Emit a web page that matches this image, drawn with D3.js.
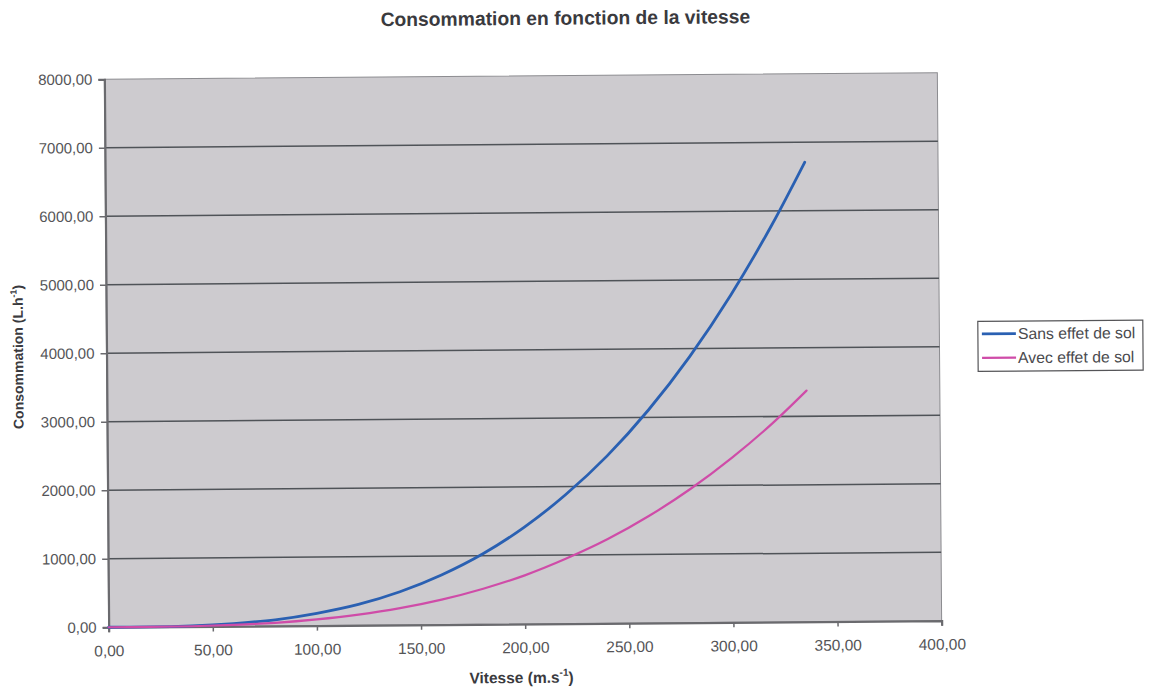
<!DOCTYPE html>
<html>
<head>
<meta charset="utf-8">
<script src="https://cdn.jsdelivr.net/npm/d3@7"></script>
<style>
  html, body { margin: 0; padding: 0; background: #ffffff; }
  svg { display: block; }
  text { font-family: "Liberation Sans", Arial, sans-serif; }
</style>
</head>
<body>
<svg id="chart" width="1152" height="691"></svg>
<script>
// Vitesse (m/s) and fuel consumption (L/h) for the two configurations
const vitesse      = [0, 20, 40, 60, 80, 100, 120, 140, 160, 180, 200, 220, 240, 260, 280, 300, 320, 336];
const sansEffetSol = [0, 0, 10, 40, 90, 180, 305, 485, 725, 1030, 1415, 1885, 2445, 3110, 3885, 4780, 5800, 6710];
const avecEffetSol = [0, 0, 5, 20, 45, 90, 155, 245, 365, 520, 710, 950, 1230, 1565, 1955, 2405, 2915, 3375];

const xTicks = [0, 50, 100, 150, 200, 250, 300, 350, 400];
const yTicks = [0, 1000, 2000, 3000, 4000, 5000, 6000, 7000, 8000];

const seriesNames  = ["Sans effet de sol", "Avec effet de sol"];
const seriesColors = ["#2a60b2", "#cf4ca8"];

const titre  = "Consommation en fonction de la vitesse";
const titreX = "Vitesse (m.s";
const titreY = "Consommation (L.h";

const frFmt = v => d3.format(".2f")(v).replace(".", ",");

const svg = d3.select("#chart");

// plot frame
const plotL = 106.5, plotR = 939.5, plotT = 76, plotB = 624;

// the whole sheet sits very slightly tilted
const root = svg.append("g").attr("transform", "rotate(-0.45, 523, 350)");

const x = d3.scaleLinear().domain([0, 400]).range([plotL, plotR]);
const y = d3.scaleLinear().domain([0, 8000]).range([plotB, plotT]);

// plot background
root.append("rect")
  .attr("x", plotL).attr("y", plotT)
  .attr("width", plotR - plotL).attr("height", plotB - plotT)
  .attr("fill", "#cdcbcf")
  .attr("stroke", "#8c8c90").attr("stroke-width", 1);

// horizontal gridlines
root.append("g")
  .selectAll("line")
  .data(yTicks.filter(d => d > 0 && d < 8000))
  .join("line")
  .attr("x1", plotL).attr("x2", plotR)
  .attr("y1", d => y(d)).attr("y2", d => y(d))
  .attr("stroke", "#4f5358").attr("stroke-width", 1.5);

// y axis
const yAxis = root.append("g")
  .attr("transform", `translate(${plotL},0)`)
  .call(d3.axisLeft(y).tickValues(yTicks).tickFormat(frFmt).tickSize(6).tickPadding(6));
yAxis.select(".domain").attr("stroke", "#6a6a6e").attr("stroke-width", 2.2);
yAxis.selectAll(".tick line").attr("stroke", "#6a6a6e").attr("stroke-width", 1.5);
yAxis.selectAll(".tick text")
  .attr("fill", "#545457").attr("font-size", 15)
  .attr("font-family", "'Liberation Sans', Arial, sans-serif");

// x axis
const xAxis = root.append("g")
  .attr("transform", `translate(0,${plotB})`)
  .call(d3.axisBottom(x).tickValues(xTicks).tickFormat(frFmt).tickSize(5).tickPadding(13));
xAxis.select(".domain").attr("stroke", "#6a6a6e").attr("stroke-width", 2.2);
xAxis.selectAll(".tick line").attr("stroke", "#6a6a6e").attr("stroke-width", 1.5);
xAxis.selectAll(".tick text")
  .attr("fill", "#545457").attr("font-size", 15.5)
  .attr("font-family", "'Liberation Sans', Arial, sans-serif");

// curves
const line = d3.line()
  .x((d, i) => x(vitesse[i]))
  .y(d => y(d))
  .curve(d3.curveMonotoneX);

[sansEffetSol, avecEffetSol].forEach((vals, k) => {
  root.append("path")
    .datum(vals)
    .attr("d", line)
    .attr("fill", "none")
    .attr("stroke", seriesColors[k])
    .attr("stroke-width", k === 0 ? 2.8 : 2.2)
    .attr("stroke-linecap", "round");
});

// title
root.append("text")
  .attr("x", 568).attr("y", 25)
  .attr("text-anchor", "middle")
  .attr("font-size", 19.3).attr("font-weight", "bold")
  .attr("fill", "#3a3a3e")
  .text(titre);

// x axis title
const tx = root.append("text")
  .attr("x", 519).attr("y", 683)
  .attr("text-anchor", "middle")
  .attr("font-size", 15.5).attr("font-weight", "bold")
  .attr("fill", "#3a3a3e");
tx.append("tspan").text(titreX);
tx.append("tspan").attr("dy", -7).attr("font-size", 10).text("-1");
tx.append("tspan").attr("dy", 7).text(")");

// y axis title
const ty = root.append("text")
  .attr("transform", "translate(23,353) rotate(-90)")
  .attr("text-anchor", "middle")
  .attr("font-size", 14).attr("font-weight", "bold")
  .attr("fill", "#3a3a3e");
ty.append("tspan").text(titreY);
ty.append("tspan").attr("dy", -6).attr("font-size", 9).text("-1");
ty.append("tspan").attr("dy", 6).text(")");

// legend
const lg = root.append("g");
lg.append("rect")
  .attr("x", 978).attr("y", 325)
  .attr("width", 165).attr("height", 50)
  .attr("fill", "#ffffff").attr("stroke", "#555558").attr("stroke-width", 1.2);
seriesNames.forEach((name, k) => {
  const yy = 337.5 + k * 24;
  lg.append("line")
    .attr("x1", 982).attr("x2", 1016)
    .attr("y1", yy).attr("y2", yy)
    .attr("stroke", seriesColors[k]).attr("stroke-width", k === 0 ? 2.8 : 2.2);
  lg.append("text")
    .attr("x", 1018).attr("y", yy + 5.5)
    .attr("font-size", 15.8).attr("fill", "#4a4a4e")
    .text(name);
});
</script>
</body>
</html>
